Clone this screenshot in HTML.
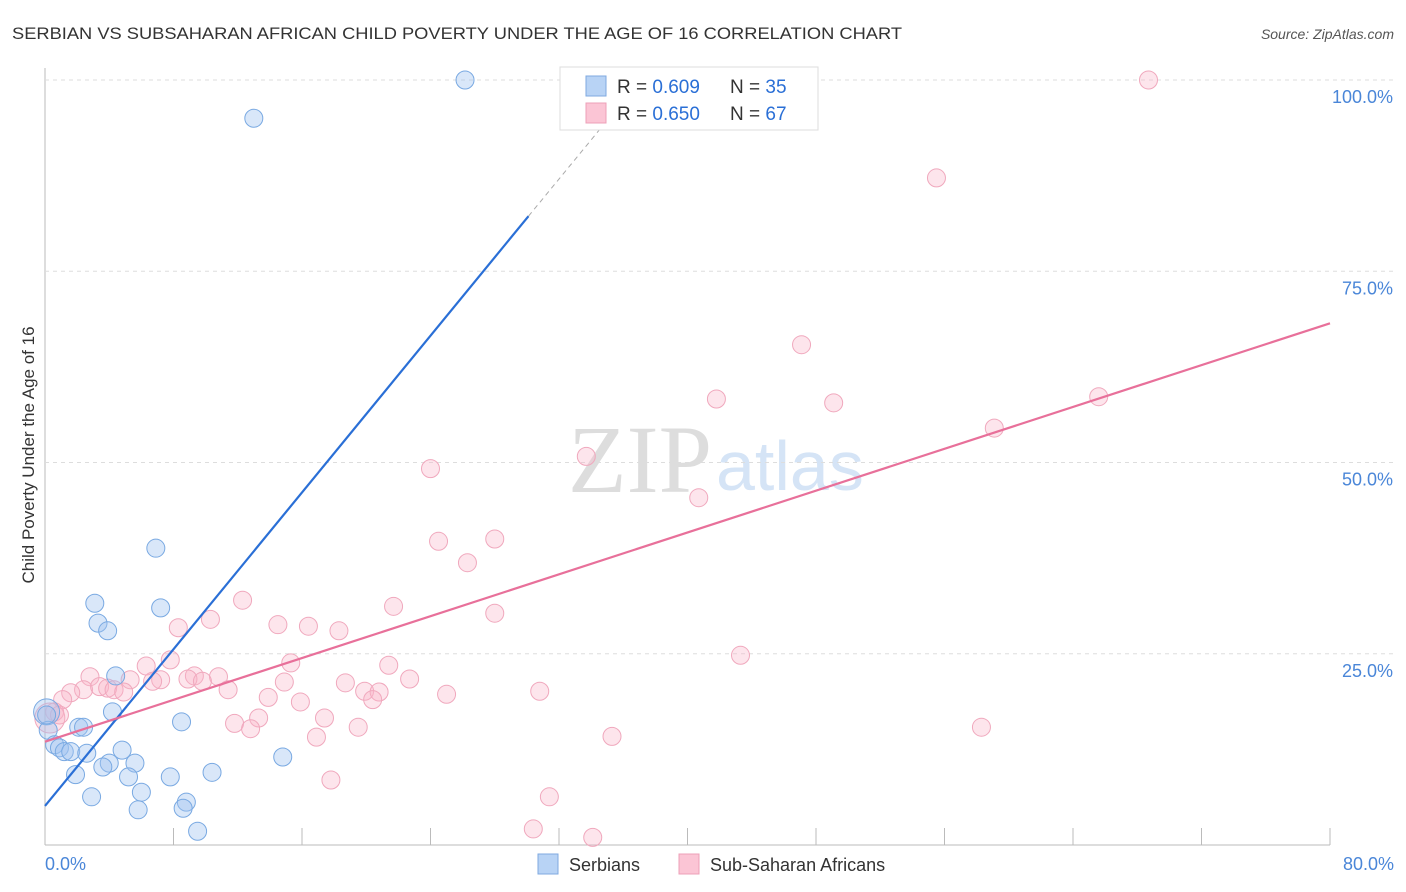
<!DOCTYPE html>
<html><head><meta charset="utf-8"><style>
body{margin:0;background:#fff;font-family:"Liberation Sans",sans-serif;}
svg{display:block}
</style></head><body>
<svg id="chart" width="1406" height="892">
<text x="12" y="39" font-size="17" fill="#333" textLength="890" lengthAdjust="spacingAndGlyphs">SERBIAN VS SUBSAHARAN AFRICAN CHILD POVERTY UNDER THE AGE OF 16 CORRELATION CHART</text>
<text x="1394" y="39" font-size="14" fill="#555" font-style="italic" text-anchor="end">Source: ZipAtlas.com</text>
<text x="0" y="0" transform="translate(34,455) rotate(-90)" font-size="17" fill="#333" text-anchor="middle">Child Poverty Under the Age of 16</text>
<text x="712" y="492" font-size="96" fill="#ddd" font-family="Liberation Serif,serif" text-anchor="end">ZIP</text>
<text x="716" y="490" font-size="70" fill="#d5e4f6">atlas</text>
<g id="grid"></g><g id="pts"></g><g id="lines"></g>
<g>
<rect x="560" y="67" width="258" height="63" fill="#fff" stroke="#ddd"/>
<rect x="586" y="76" width="20" height="20" fill="#b8d3f5" stroke="#7fa9e0"/>
<rect x="586" y="103" width="20" height="20" fill="#fbc5d5" stroke="#eea0b8"/>
<text x="617" y="93" font-size="19" fill="#333">R = <tspan fill="#2a6fd6">0.609</tspan></text>
<text x="730" y="93" font-size="19" fill="#333">N = <tspan fill="#2a6fd6">35</tspan></text>
<text x="617" y="120" font-size="19" fill="#333">R = <tspan fill="#2a6fd6">0.650</tspan></text>
<text x="730" y="120" font-size="19" fill="#333">N = <tspan fill="#2a6fd6">67</tspan></text>
</g>
<g>
<rect x="538" y="854" width="20" height="20" fill="#b8d3f5" stroke="#7fa9e0"/>
<text x="569" y="871" font-size="18" fill="#333">Serbians</text>
<rect x="679" y="854" width="20" height="20" fill="#fbc5d5" stroke="#eea0b8"/>
<text x="710" y="871" font-size="18" fill="#333">Sub-Saharan Africans</text>
</g>
</svg>
<script>
const blueX=[26.15,13.0,6.9,3.1,7.2,3.3,3.9,4.4,4.2,8.5,2.1,2.4,0.1,0.2,0.6,0.9,1.2,1.6,2.6,4.8,4.0,3.6,5.6,1.9,5.2,7.8,10.4,14.8,6.0,2.9,8.8,8.6,5.8,9.5,0.1];
const blueY=[100,95,38.8,31.6,31.0,29.0,28.0,22.1,17.4,16.1,15.4,15.4,17.4,15.0,13.1,12.7,12.2,12.2,12.0,12.4,10.7,10.2,10.7,9.2,8.9,8.9,9.5,11.5,6.9,6.3,5.6,4.8,4.6,1.8,17.0];
const pinkX=[68.7,55.5,47.1,65.6,41.8,49.1,59.1,24.0,33.7,40.7,24.5,28.0,26.3,12.3,21.7,28.0,10.3,8.3,14.5,16.4,18.3,43.3,7.8,6.3,15.3,21.4,2.8,9.3,10.8,5.3,7.2,8.9,9.8,14.9,18.7,22.7,2.4,3.4,3.9,4.3,4.9,6.7,11.4,13.9,19.9,20.8,25.0,30.8,1.6,1.1,15.9,20.4,0.6,0.3,13.3,17.4,11.8,19.5,12.8,58.3,16.9,35.3,17.8,31.4,30.4,34.1,0.9];
const pinkY=[100,87.2,65.4,58.6,58.3,57.8,54.5,49.2,50.8,45.4,39.7,40.0,36.9,32.0,31.2,30.3,29.5,28.4,28.8,28.6,28.0,24.8,24.2,23.4,23.8,23.5,22.0,22.1,22.0,21.6,21.6,21.7,21.4,21.3,21.2,21.7,20.3,20.7,20.5,20.3,20.0,21.4,20.3,19.3,20.1,20.0,19.7,20.1,19.9,19.0,18.7,19.0,17.4,16.6,16.6,16.6,15.9,15.4,15.2,15.4,14.1,14.2,8.5,6.3,2.1,1.0,17.0];
const blueLine=[0,5.1,30.1,82.2,34.6,93.7];
const pinkLine=[0,13.5,80,68.2];
const yTicks=[25,50,75,100];
const xTickVals=[0,8,16,24,32,40,48,56,64,72,80];
const NS='http://www.w3.org/2000/svg';
const sx=v=>45+v*1285/80, sy=v=>845-v*7.65;
function mk(t,a,p){const e=document.createElementNS(NS,t);for(const k in a)e.setAttribute(k,a[k]);p.appendChild(e);return e;}
const grid=document.getElementById('grid');
let ax=mk('line',{x1:45,y1:68,x2:45,y2:845,stroke:'#bbb'},grid);


let bx=mk('line',{x1:45,y1:845,x2:1330,y2:845,stroke:'#bbb'},grid);


yTicks.forEach(v=>{
 let g=mk('line',{x1:45,y1:sy(v),x2:1394,y2:sy(v),stroke:'#ddd','stroke-dasharray':'4,4'},grid);
 
 
 let t=mk('text',{x:1393,y:sy(v)+23,'font-size':18,fill:'#4a86d8','text-anchor':'end'},grid);
 t.textContent=v.toFixed(1)+'%';
 
 
});
xTickVals.forEach(v=>{
 let l=mk('line',{x1:sx(v),y1:828,x2:sx(v),y2:845,stroke:'#bbb'},grid);
 
 
});
[[0,'start',45],[80,'end',1394]].forEach(([v,a,x])=>{
 let t=mk('text',{x:x,y:870,'font-size':18,fill:'#4a86d8','text-anchor':a},grid);
 t.textContent=v.toFixed(1)+'%';
 
 
});
const pts=document.getElementById('pts');
pinkX.forEach((x,i)=>{
 let c=mk('circle',{cx:sx(x),cy:sy(pinkY[i]),r:(i==53?15:9),fill:'rgba(248,180,200,0.35)',stroke:'#f0a8bd','stroke-width':1},pts);
 
 
});
blueX.forEach((x,i)=>{
 let c=mk('circle',{cx:sx(x),cy:sy(blueY[i]),r:(i==12?13:9),fill:'rgba(160,196,240,0.4)',stroke:'#79a9e2','stroke-width':1},pts);
 
 
});
const lines=document.getElementById('lines');
let b1=mk('line',{x1:sx(blueLine[0]),y1:sy(blueLine[1]),x2:sx(blueLine[2]),y2:sy(blueLine[3]),stroke:'#2a6fd6','stroke-width':2.2},lines);


let b2=mk('line',{x1:sx(blueLine[2]),y1:sy(blueLine[3]),x2:sx(blueLine[4]),y2:sy(blueLine[5]),stroke:'#aaa','stroke-width':1,'stroke-dasharray':'5,4'},lines);


let p1=mk('line',{x1:sx(pinkLine[0]),y1:sy(pinkLine[1]),x2:sx(pinkLine[2]),y2:sy(pinkLine[3]),stroke:'#e8709a','stroke-width':2.2},lines);


</script>
</body></html>
